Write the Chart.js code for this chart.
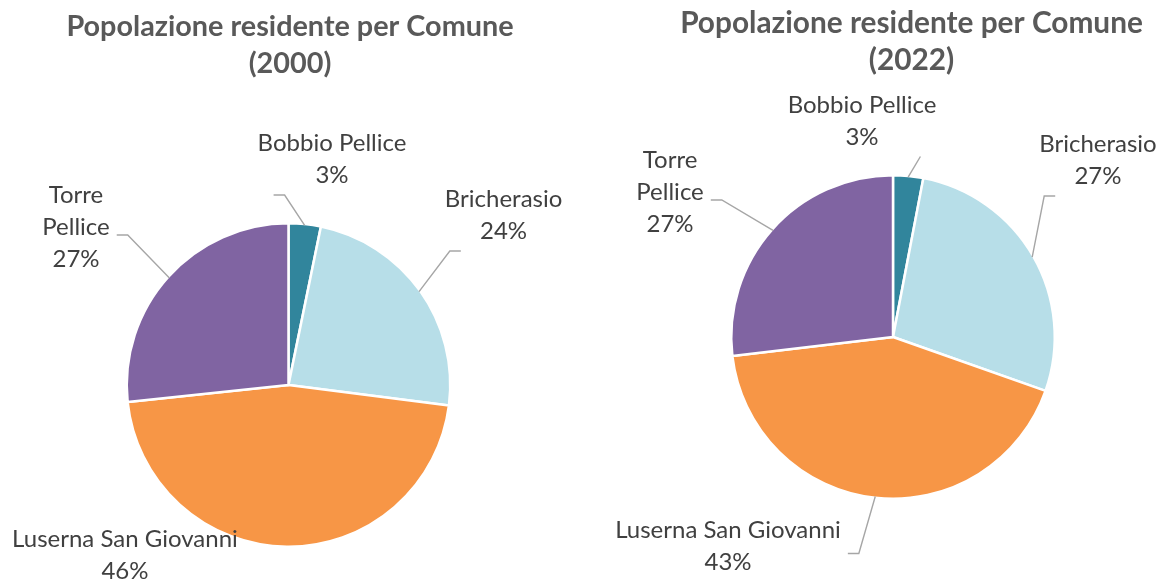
<!DOCTYPE html>
<html>
<head>
<meta charset="utf-8">
<title>Popolazione residente per Comune</title>
<script src="https://cdn.jsdelivr.net/npm/chart.js@4.4.1/dist/chart.umd.min.js"></script>
<style>
    body { margin: 0; background: #fff; width: 1165px; height: 581px; overflow: hidden; position: relative; }
    .box { position: absolute; top: 0; height: 581px; }
</style>
</head>
<body>
<div class="box" style="left:0;width:580px"><canvas id="grafico-2000"></canvas></div>
<div class="box" style="left:580px;width:585px"><canvas id="grafico-2022"></canvas></div>
<script>
// dati
const comuni = ['Bobbio Pellice', 'Bricherasio', 'Luserna San Giovanni', 'Torre Pellice'];
const pop2000 = [560, 4150, 8070, 4650];
const pop2022 = [520, 4740, 7390, 4650];
const colori = ['#31859C', '#B7DEE8', '#F79646', '#8064A2'];

const BORDO = 2.5;

// a capo sulle parole quando la riga supera maxW
function spezza(ctx, testo, maxW) {
    const parole = testo.split(' ');
    const righe = [];
    let riga = '';
    for (const p of parole) {
        const prova = riga ? riga + ' ' + p : p;
        if (riga && ctx.measureText(prova).width > maxW) {
            righe.push(riga);
            riga = p;
        } else {
            riga = prova;
        }
    }
    righe.push(riga);
    return righe;
}

const etichette = {
    id: 'etichette',
    afterDatasetsDraw(chart, args, opts) {
        const ctx = chart.ctx;
        const ds = chart.data.datasets[0];
        const tot = ds.data.reduce((a, b) => a + b, 0);
        const meta = chart.getDatasetMeta(0);
        ctx.save();
        ctx.font = opts.font;
        ctx.textAlign = 'center';
        ctx.textBaseline = 'alphabetic';
        meta.data.forEach((arc, i) => {
            const p = arc.getProps(['x', 'y', 'startAngle', 'endAngle', 'outerRadius'], true);
            const r = p.outerRadius - BORDO / 2;
            const mid = (p.startAngle + p.endAngle) / 2;
            const ax = p.x + r * Math.cos(mid);
            const ay = p.y + r * Math.sin(mid);
            const pos = opts.posizioni[i];
            const cx = p.x + pos[0] * r;
            const cy = p.y + pos[1] * r;
            const righe = spezza(ctx, chart.data.labels[i], pos[2] || 999);
            righe.push(Math.round(ds.data[i] / tot * 100) + '%');
            const lh = opts.interlinea;
            const n = righe.length;
            const base0 = cy - (n - 1) / 2 * lh;
            const w = Math.max(...righe.map(t => ctx.measureText(t).width));
            const box = { l: cx - w / 2 - 4, r: cx + w / 2 + 4, t: base0 - 22, b: base0 + (n - 1) * lh + 10 };

            // linea guida solo se l'etichetta è staccata dalla torta
            const nx = Math.min(Math.max(p.x, box.l), box.r);
            const ny = Math.min(Math.max(p.y, box.t), box.b);
            if (Math.hypot(nx - p.x, ny - p.y) > r + 12) {
                const dx = cx - ax, dy = cy - ay;
                let ex, ey;
                if (Math.abs(dx) > 1.3 * Math.abs(dy)) {
                    ex = dx < 0 ? box.r + 3 : box.l - 3;
                    ey = cy;
                } else {
                    ey = dy < 0 ? box.b + 2 : box.t - 2;
                    ex = ax < cx ? box.l + 20 : box.r - 20;
                }
                const kx = Math.abs(ax - ex) < 15 ? ex : ex + 11 * Math.sign(ax - ex);
                ctx.strokeStyle = opts.coloreLinea;
                ctx.lineWidth = 1.4;
                ctx.beginPath();
                ctx.moveTo(ax, ay);
                ctx.lineTo(kx, ey);
                ctx.lineTo(ex, ey);
                ctx.stroke();
            }

            ctx.fillStyle = opts.colore;
            righe.forEach((t, k) => ctx.fillText(t, cx, base0 + k * lh));
        });

        // titolo
        const tit = opts.titolo;
        ctx.font = tit.font;
        ctx.fillStyle = tit.colore;
        tit.righe.forEach((t, k) => ctx.fillText(t, tit.x, tit.basi[k]));
        ctx.restore();
    }
};

// padding per avere la torta centrata in (cx, cy) con raggio r
function padding(cx, cy, r, w, h) {
    const half = r + BORDO;
    return { left: cx - half, right: w - cx - half, top: cy - half, bottom: h - cy - half };
}

function creaTorta(id, valori, larg, centro, raggio, posizioni, titolo) {
    return new Chart(document.getElementById(id), {
        type: 'pie',
        data: {
            labels: comuni,
            datasets: [{
                data: valori,
                backgroundColor: colori,
                borderColor: '#ffffff',
                borderWidth: BORDO,
                hoverOffset: 0
            }]
        },
        options: {
            responsive: true,
            maintainAspectRatio: false,
            animation: false,
            events: [],
            layout: { padding: padding(centro[0], centro[1], raggio, larg, 581) },
            plugins: {
                legend: { display: false },
                tooltip: { enabled: false },
                title: { display: false },
                etichette: {
                    font: '24px Lato',
                    colore: '#404040',
                    coloreLinea: '#A6A6A6',
                    interlinea: 32,
                    posizioni: posizioni,
                    titolo: titolo
                }
            }
        },
        plugins: [etichette]
    });
}

creaTorta('grafico-2000', pop2000, 580, [288.5, 385], 160.5,
    [[0.271, -1.358], [1.340, -1.009], [-1.019, 1.106], [-1.324, -0.935, 100]],
    { righe: ['Popolazione residente per Comune', '(2000)'], x: 290, basi: [36, 73],
      font: 'bold 28.8px Lato', colore: '#595959' });

creaTorta('grafico-2022', pop2022, 585, [313, 337], 160.5,
    [[-0.193, -1.299], [1.277, -1.053], [-1.028, 1.349], [-1.389, -0.854, 100]],
    { righe: ['Popolazione residente per Comune', '(2022)'], x: 331.5, basi: [33, 70],
      font: 'bold 29.8px Lato', colore: '#595959' });
</script>
</body>
</html>
